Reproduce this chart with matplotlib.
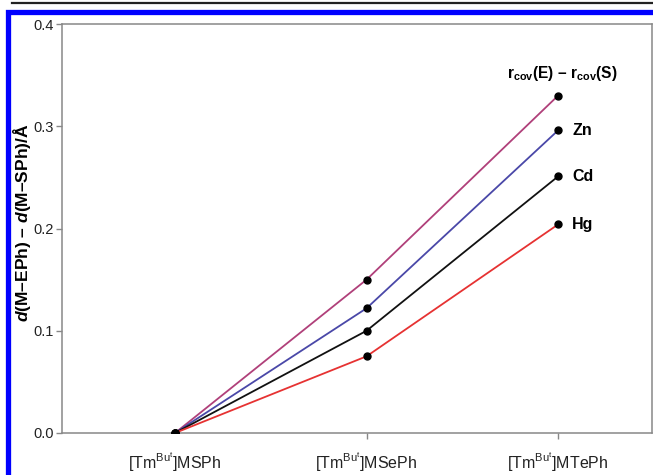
import matplotlib
matplotlib.use('Agg')
import matplotlib.pyplot as plt
from matplotlib.lines import Line2D

plt.rcParams['font.family'] = ['Liberation Sans', 'DejaVu Sans']
plt.rcParams['mathtext.fontset'] = 'custom'
plt.rcParams['mathtext.rm'] = 'Liberation Sans'
plt.rcParams['mathtext.it'] = 'Liberation Sans:italic'
plt.rcParams['mathtext.bf'] = 'Liberation Sans:bold'
plt.rcParams['mathtext.bfit'] = 'Liberation Sans:bold:italic'

# data
compounds = [r'[Tm$^{\mathregular{Bu}^{\mathregular{t}}}$]MSPh',
             r'[Tm$^{\mathregular{Bu}^{\mathregular{t}}}$]MSePh',
             r'[Tm$^{\mathregular{Bu}^{\mathregular{t}}}$]MTePh']
rcov = [0.0, 0.150, 0.330]
zn = [0.0, 0.122, 0.296]
cd = [0.0, 0.100, 0.251]
hg = [0.0, 0.075, 0.204]
series_names = [r'$\mathbf{r_{cov}}$(E) – $\mathbf{r_{cov}}$(S)', 'Zn', 'Cd', 'Hg']
colors = ['#b0407a', '#4a48a8', '#111111', '#e63232']

W, H = 653, 475
fig = plt.figure(figsize=(W / 100, H / 100), dpi=100)
ax = fig.add_axes([62 / W, 1 - 433 / H, 590 / W, 409 / H])

x = list(range(len(compounds)))
for vals, c in zip([rcov, zn, cd, hg], colors):
    ax.plot(x, vals, color=c, lw=1.3, zorder=2)
    ax.plot(x, vals, 'o', color='black', ms=5, zorder=3)

# labels at the last point
for i, (vals, name) in enumerate(zip([rcov, zn, cd, hg], series_names)):
    if i == 0:
        ax.annotate(name, (x[-1], vals[-1]), xytext=(3, 9), textcoords='offset points',
                    ha='center', va='bottom', fontsize=11.2, fontweight='bold')
    else:
        ax.annotate(name, (x[-1], vals[-1]), xytext=(10, 0), textcoords='offset points',
                    ha='left', va='center', fontsize=11.5, fontweight='bold')

ax.set_xlim(-0.59, 2.49)
ax.set_ylim(0, 0.4)
ax.set_yticks([0.0, 0.1, 0.2, 0.3, 0.4])
ax.set_yticklabels(['0.0', '0.1', '0.2', '0.3', '0.4'])
ax.set_xticks(x)
ax.set_xticklabels(compounds)
ax.xaxis.get_major_ticks()[0].tick1line.set_visible(False)
ax.tick_params(axis='both', direction='out', length=4, width=1, color='#888888',
               labelsize=10.5, labelcolor='#222222')
ax.tick_params(axis='x', pad=9, labelsize=11.5)
ax.tick_params(axis='y', pad=2)
for s in ax.spines.values():
    s.set_color('#888888')
    s.set_linewidth(1.1)

ax.set_ylabel(r'$\mathbfit{d}$(M–EPh) – $\mathbfit{d}$(M–SPh)/Å', fontsize=12.5,
              fontweight='bold')
ax.yaxis.set_label_coords(-29 / 590, 0.515)

# page decorations: black rule and blue frame
fig.add_artist(Line2D([12 / W, 1], [1 - 2.5 / H, 1 - 2.5 / H], color='#222222', lw=1.6,
                      transform=fig.transFigure))
fig.add_artist(Line2D([7.5 / W, 7.5 / W, 1.05], [-0.05, 1 - 11.5 / H, 1 - 11.5 / H],
                      color='#0000ff', lw=3.8, solid_joinstyle='miter',
                      transform=fig.transFigure))

fig.savefig('out.png', dpi=100)
